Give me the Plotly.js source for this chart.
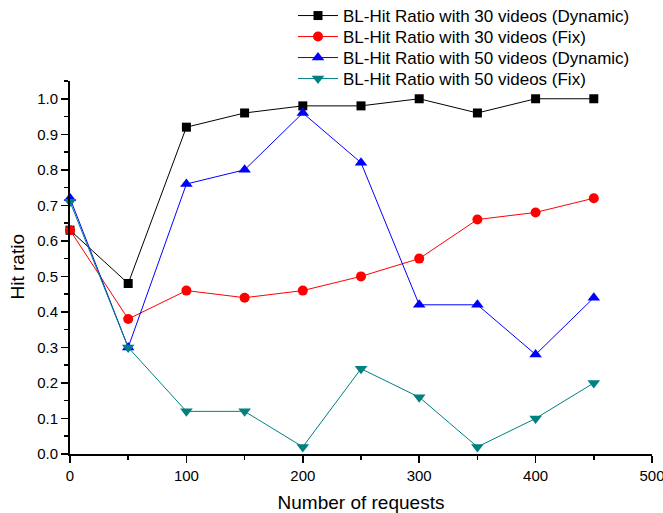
<!DOCTYPE html>
<html>
<head>
<meta charset="utf-8">
<script src="https://cdn.plot.ly/plotly-3.0.1.min.js"></script>
<style>html,body{margin:0;padding:0;background:#fff;}#chart{width:663px;height:513px;}</style>
</head>
<body>
<div id="chart"></div>
<script>
const requests = [0, 50, 100, 150, 200, 250, 300, 350, 400, 450];
const hit30Dynamic = [0.63, 0.48, 0.92, 0.96, 0.98, 0.98, 1.00, 0.96, 1.00, 1.00];
const hit30Fix = [0.63, 0.38, 0.46, 0.44, 0.46, 0.50, 0.55, 0.66, 0.68, 0.72];
const hit50Dynamic = [0.72, 0.30, 0.76, 0.80, 0.96, 0.82, 0.42, 0.42, 0.28, 0.44];
const hit50Fix = [0.71, 0.30, 0.12, 0.12, 0.02, 0.24, 0.16, 0.02, 0.10, 0.20];
const seriesNames = [
  'BL-Hit Ratio with 30 videos (Dynamic)',
  'BL-Hit Ratio with 30 videos (Fix)',
  'BL-Hit Ratio with 50 videos (Dynamic)',
  'BL-Hit Ratio with 50 videos (Fix)'
];
const xTickVals = [0, 100, 200, 300, 400, 500];
const yTickVals = [0, 0.1, 0.2, 0.3, 0.4, 0.5, 0.6, 0.7, 0.8, 0.9, 1.0];
const xTitle = 'Number of requests';
const yTitle = 'Hit ratio';

const FONT = '"Liberation Sans", Arial, sans-serif';
const legendIds = ['legend', 'legend2', 'legend3', 'legend4'];
function tr(i, y, color, symbol, size) {
  return {
    x: requests, y: y, name: seriesNames[i], type: 'scatter', mode: 'lines+markers',
    line: {color: color, width: 1},
    marker: {color: color, symbol: symbol, size: size},
    cliponaxis: false,
    legend: legendIds[i]
  };
}
const data = [
  tr(0, hit30Dynamic, '#000000', 'square', 9),
  tr(1, hit30Fix, '#ff0000', 'circle', 10),
  tr(2, hit50Dynamic, '#0000ff', 'triangle-up', 11),
  tr(3, hit50Fix, '#008080', 'triangle-down', 11)
];
function legendAt(k) {
  return {
    xref: 'container', yref: 'container',
    x: 293 / 663, y: 1 - (16 + 21 * k) / 513,
    xanchor: 'left', yanchor: 'middle',
    font: {family: FONT, size: 17, color: '#000'},
    bgcolor: 'rgba(0,0,0,0)', itemwidth: 40
  };
}
const layout = {
  width: 663, height: 513,
  margin: {l: 70, r: 11, t: 81, b: 59, autoexpand: false},
  paper_bgcolor: '#fff', plot_bgcolor: '#fff',
  font: {family: FONT, size: 15, color: '#000'},
  showlegend: true,
  legend: legendAt(0), legend2: legendAt(1), legend3: legendAt(2), legend4: legendAt(3),
  xaxis: {
    range: [0, 500], tickvals: xTickVals, ticktext: xTickVals.map(String),
    showline: true, linecolor: '#000', linewidth: 2, mirror: false,
    ticks: 'outside', ticklen: 7, tickwidth: 1.5, tickcolor: '#000',
    ticklabeloverflow: 'allow',
    minor: {dtick: 50, tick0: 0, ticks: 'outside', ticklen: 4, tickwidth: 1.5, tickcolor: '#000'},
    showgrid: false, zeroline: false,
    tickfont: {family: FONT, size: 15, color: '#000'},
    title: {text: xTitle, font: {family: FONT, size: 19, color: '#000'}, standoff: 14}
  },
  yaxis: {
    range: [0, 1.05], tickvals: yTickVals, ticktext: yTickVals.map(v => v.toFixed(1)),
    showline: true, linecolor: '#000', linewidth: 2, mirror: false,
    ticks: 'outside', ticklen: 7, tickwidth: 1.5, tickcolor: '#000',
    minor: {dtick: 0.05, tick0: 0, ticks: 'outside', ticklen: 4, tickwidth: 1.5, tickcolor: '#000'},
    showgrid: false, zeroline: false,
    tickfont: {family: FONT, size: 15, color: '#000'}
  },
  annotations: [{
    text: yTitle, xref: 'paper', yref: 'paper', x: -53 / 582, y: 0.5,
    xanchor: 'center', yanchor: 'middle', textangle: -90, showarrow: false,
    font: {family: FONT, size: 19, color: '#000'}
  }]
};
Plotly.newPlot('chart', data, layout, {displayModeBar: false, staticPlot: true});
</script>
</body>
</html>
